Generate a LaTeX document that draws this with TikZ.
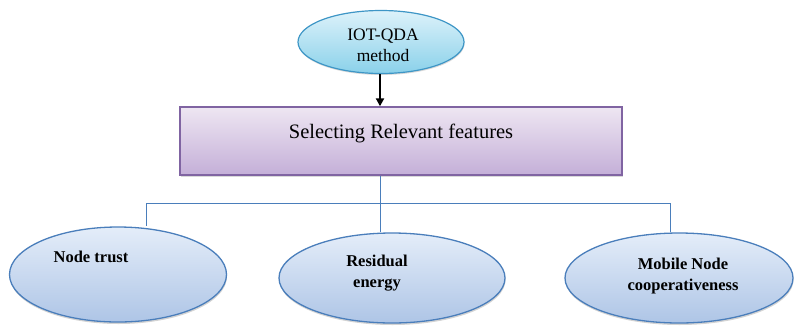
\documentclass[tikz,border=0pt]{standalone}
\usepackage{fontspec}
\setmainfont{Liberation Serif}
\usetikzlibrary{shapes.geometric,arrows.meta,shadows}
\definecolor{ellborder}{HTML}{4A7EBB}
\definecolor{elltop}{HTML}{E4EDF9}
\definecolor{ellbot}{HTML}{AEC5E6}
\definecolor{topborder}{HTML}{3E96C6}
\definecolor{toptop}{HTML}{DDF2FA}
\definecolor{topbot}{HTML}{8AD1EA}
\definecolor{recborder}{HTML}{8064A2}
\definecolor{rectop}{HTML}{EEE6F2}
\definecolor{recbot}{HTML}{C4AFD8}
\definecolor{connc}{HTML}{4A7EBB}
\tikzset{
  feat/.style={ellipse, draw=ellborder, line width=1.3pt, top color=elltop, bottom color=ellbot,
    inner sep=0pt, drop shadow={shadow xshift=0.5pt, shadow yshift=-2pt, opacity=0.35}},
  ftext/.style={font=\fontsize{16.5}{21.5}\selectfont\bfseries, align=center, inner sep=0pt},
  conn/.style={draw=connc, line width=1pt},
}
\begin{document}
\begin{tikzpicture}[x=1pt,y=-1pt]
\useasboundingbox (0,0) rectangle (794,325);
% top ellipse
\node[ellipse, draw=topborder, line width=1.2pt, top color=toptop, bottom color=topbot,
  minimum width=166pt, minimum height=63pt, inner sep=0pt,
  drop shadow={shadow xshift=0.5pt, shadow yshift=-1.5pt, opacity=0.3}] (iot) at (381,42) {};
\node[font=\fontsize{17.5}{21}\selectfont, align=center, inner sep=0pt] (iottext) at (383,45) {IOT-QDA\\method};
% rectangle
\node[rectangle, draw=recborder, line width=1.4pt, top color=rectop, bottom color=recbot,
  minimum width=442pt, minimum height=68pt, inner sep=0pt,
  drop shadow={shadow xshift=1pt, shadow yshift=-1.5pt, opacity=0.3}] (sel) at (401,141) {};
\node[font=\fontsize{20.5}{24}\selectfont, inner sep=0pt] (seltext) at (401,133) {Selecting Relevant features};
% feature ellipses
\node[feat, minimum width=217pt, minimum height=95pt] (nt) at (118,274.5) {};
\node[ftext] (nttext) at (91,257) {Node trust};
\node[feat, minimum width=226pt, minimum height=90pt] (re) at (392,278) {};
\node[ftext] (retext) at (377,273) {Residual\\energy};
\node[feat, minimum width=228pt, minimum height=90pt] (mn) at (679,278) {};
\node[ftext] (mntext) at (683,276) {Mobile Node\\cooperativeness};
% arrow
\draw[line width=2.2pt, -{Triangle[length=8pt,width=8pt]}] (iot.south -| 380,0) -- (380,0 |- sel.north);
% connectors
\coordinate (jl) at (146,203);
\coordinate (jm) at (380,203);
\coordinate (jr) at (670,203);
\draw[conn] (jm |- sel.south) -- (jm);
\draw[conn] (jl) -- (jr);
\draw[conn] (jl) -- (jl |- nt.north);
\draw[conn] (jm) -- (jm |- re.north);
\draw[conn] (jr) -- (jr |- mn.north);
\end{tikzpicture}
\end{document}
